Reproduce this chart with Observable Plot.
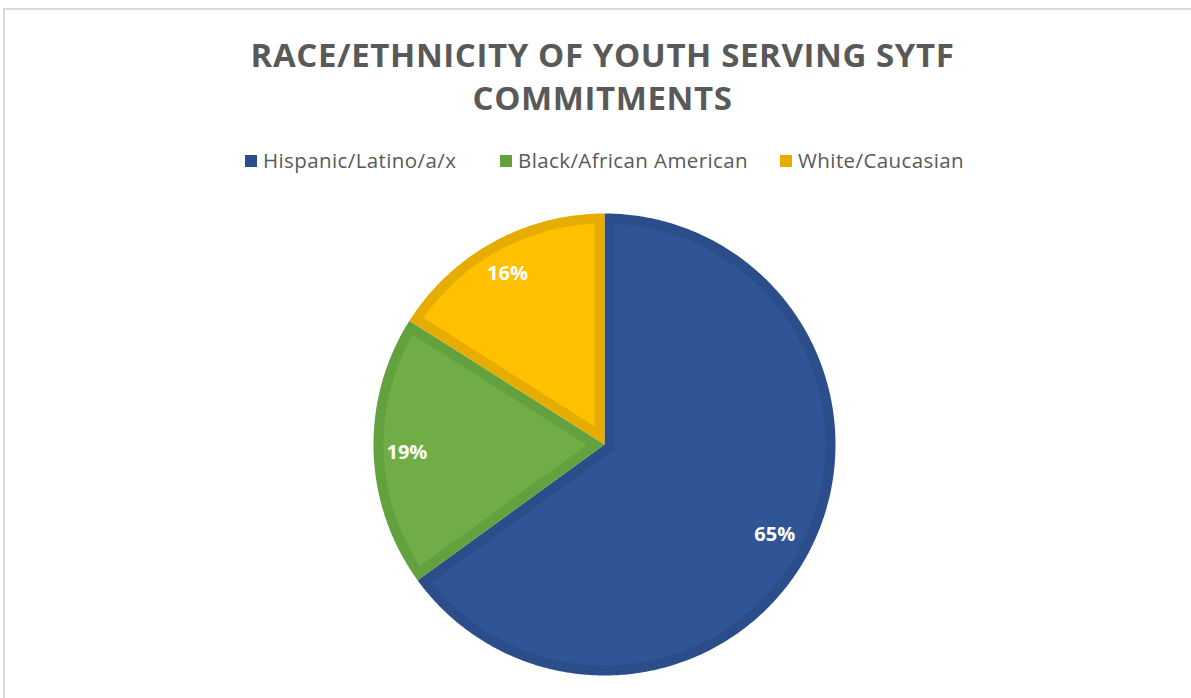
<!DOCTYPE html>
<html>
<head>
<meta charset="utf-8">
<script src="https://cdn.jsdelivr.net/npm/d3@7"></script>
<script src="https://cdn.jsdelivr.net/npm/@observablehq/plot@0.6"></script>
<style>
  html, body { margin: 0; padding: 0; background: #fff; overflow: hidden; width: 1191px; height: 698px; }
  #frame { position: absolute; left: 3px; top: 8px; width: 1400px; height: 900px; border-top: 2px solid #d9d9d9; border-left: 2px solid #d9d9d9; }
  #title { position: absolute; left: 0; width: 1205px; top: 33px; text-align: center; font-family: "Open Sans", sans-serif; font-weight: 700; font-size: 33px; line-height: 43px; color: #595959; letter-spacing: 0.6px; }
  .leg { position: absolute; top: 147px; font-family: "Open Sans", sans-serif; font-size: 20.5px; color: #595959; line-height: 27px; white-space: nowrap; letter-spacing: 0.4px; }
  .sw { position: absolute; top: 155px; width: 12px; height: 12px; }
  #chart { position: absolute; left: 343.5px; top: 184px; }
</style>
</head>
<body>
<div id="frame"></div>
<div id="title"></div>
<div id="legend"></div>
<div id="chart"></div>
<script>
const titleLines = ["RACE/ETHNICITY OF YOUTH SERVING SYTF", "COMMITMENTS"];
const categories = ["Hispanic/Latino/a/x", "Black/African American", "White/Caucasian"];
const values = [65, 19, 16];
const fillColors = ["#2f5597", "#70ad47", "#ffc000"];
const edgeColors = ["#2b4e8b", "#63a03e", "#e6ad00"];
const legendSwatchX = [245, 500, 780];

// Title
document.getElementById("title").innerHTML = titleLines.join("<br>");

// Legend
const legend = document.getElementById("legend");
categories.forEach((c, i) => {
  const sw = document.createElement("div");
  sw.className = "sw";
  sw.style.left = legendSwatchX[i] + "px";
  sw.style.background = edgeColors[i];
  legend.appendChild(sw);
  const t = document.createElement("div");
  t.className = "leg";
  t.style.left = (legendSwatchX[i] + 18) + "px";
  t.textContent = c;
  legend.appendChild(t);
});

// Pie geometry (computed from values)
const R = 231;      // outer radius (px units of the scales)
const band = 10;    // darker border width
const arcs = d3.pie().sort(null).value(d => d)(values);
const pt = (a, rho) => ({x: rho * Math.sin(a), y: rho * Math.cos(a)});

const outer = [], inner = [], labelsData = [];
arcs.forEach((a, i) => {
  const a0 = a.startAngle, a1 = a.endAngle, th = a1 - a0;
  const n = Math.max(8, Math.ceil(th / 0.01));
  // outer (dark) wedge
  outer.push({...pt(0, 0), k: i, color: edgeColors[i]});
  for (let j = 0; j <= n; j++) outer.push({...pt(a0 + th * j / n, R), k: i, color: edgeColors[i]});
  // inner (light) wedge inset by band
  const ri = R - band;
  const t = Math.sqrt(ri * ri - band * band);
  const dl = Math.atan2(band, t);
  const apex = pt((a0 + a1) / 2, band / Math.sin(th / 2));
  inner.push({...apex, k: i, color: fillColors[i]});
  const b0 = a0 + dl, b1 = a1 - dl;
  for (let j = 0; j <= n; j++) inner.push({...pt(b0 + (b1 - b0) * j / n, ri), k: i, color: fillColors[i]});
  // label: inside end, box half sizes
  const mid = (a0 + a1) / 2;
  const hw = 21, hh = 11;
  const ext = hw * Math.abs(Math.sin(mid)) + hh * Math.abs(Math.cos(mid));
  const rl = R - 14 - ext;
  labelsData.push({...pt(mid, rl), text: `${values[i]}%`});
});

const plot = Plot.plot({
  width: 520, height: 520,
  margin: 0,
  x: {domain: [-260, 260], axis: null},
  y: {domain: [-260, 260], axis: null},
  color: {type: "identity"},
  marks: [
    Plot.line(outer, {x: "x", y: "y", z: "k", fill: "color", stroke: "none", curve: "linear-closed"}),
    Plot.line(inner, {x: "x", y: "y", z: "k", fill: "color", stroke: "none", curve: "linear-closed"}),
    Plot.text(labelsData, {x: "x", y: "y", dx: -2, dy: 2, text: "text", fill: "white", fontSize: 20, fontWeight: "bold", fontFamily: "Open Sans, sans-serif"})
  ]
});
document.getElementById("chart").appendChild(plot);
</script>
</body>
</html>
